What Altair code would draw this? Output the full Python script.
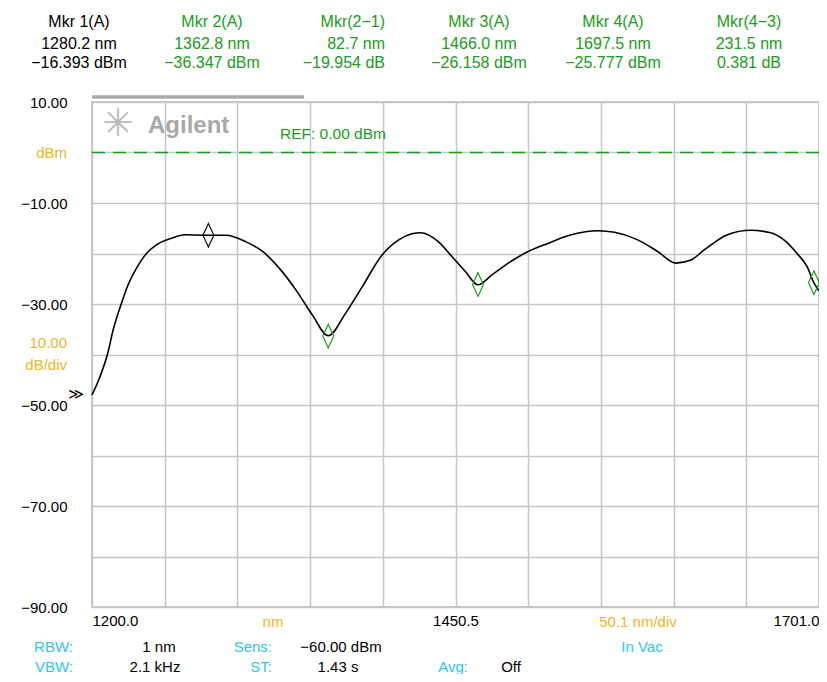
import altair as alt
import pandas as pd

# ---- trace data ----
wavelength = [1200.0, 1205.5, 1210.8, 1214.6, 1219.9, 1224.9, 1230.7, 1237.5, 1244.4, 1254.7,
              1263.8, 1280.2, 1292.4, 1306.2, 1317.6, 1329.0, 1340.5, 1351.9, 1362.8, 1374.8,
              1386.2, 1399.9, 1411.4, 1420.5, 1426.3, 1438.8, 1448.0, 1457.4, 1466.0, 1475.4,
              1486.9, 1500.6, 1514.3, 1530.3, 1548.6, 1560.1, 1576.1, 1589.8, 1602.4, 1612.7,
              1621.9, 1637.9, 1653.9, 1667.6, 1676.8, 1685.9, 1692.8, 1697.5, 1701.0]
power = [-48.0, -44.4, -39.8, -35.1, -30.2, -26.2, -22.9, -20.0, -18.3, -17.0,
         -16.3, -16.4, -16.4, -17.7, -19.6, -22.9, -27.2, -32.2, -36.3, -31.8,
         -26.6, -20.3, -17.3, -16.1, -15.9, -17.7, -20.6, -23.6, -26.2, -24.3,
         -21.9, -19.6, -18.0, -16.3, -15.5, -15.8, -17.3, -19.6, -21.9, -21.3,
         -19.3, -16.3, -15.4, -15.9, -17.3, -20.0, -22.6, -25.8, -27.4]

# ---- markers ----
mkr_names = ["Mkr 1", "Mkr 2", "Mkr 3", "Mkr 4"]
mkr_wl = [1280.2, 1362.8, 1466.0, 1697.5]
mkr_pw = [-16.393, -36.347, -26.158, -25.777]
mkr_active = ["ref", "act", "act", "act"]

# ---- header readout ----
hdr_title = ["Mkr 1(A)", "Mkr 2(A)", "Mkr(2\u22121)", "Mkr 3(A)", "Mkr 4(A)", "Mkr(4\u22123)"]
hdr_wl = ["1280.2 nm", "1362.8 nm", "82.7 nm", "1466.0 nm", "1697.5 nm", "231.5 nm"]
hdr_val = ["\u221216.393 dBm", "\u221236.347 dBm", "\u221219.954 dB", "\u221226.158 dBm",
           "\u221225.777 dBm", "0.381 dB"]

# ---- axes ----
x_start, x_stop, x_div = 1200.0, 1701.0, 50.1
y_top, y_div, n_div = 10.0, 10.0, 10
x_ticks = [round(x_start + x_div * i, 2) for i in range(n_div + 1)]
y_ticks = [y_top - y_div * i for i in range(n_div + 1)]
y_labelled = [10, -10, -30, -50, -70, -90]
x_labelled = [1200.0, 1450.5, 1701.0]

# ---- footer settings ----
footer_labels = ["RBW:", "Sens:", "VBW:", "ST:", "Avg:"]
footer_values = ["1 nm", "\u221260.00 dBm", "2.1 kHz", "1.43 s", "Off"]

# ---- layout / style (not data) ----
W, H = 727, 505
FONT = "Liberation Sans"
GREEN = "#1e9a1e"
ORANGE = "#f2b32a"
CYAN = "#2ec6f2"
GRID = "#c6c6c6"

trace_df = pd.DataFrame({"wl": wavelength, "p": power})
mkr_df = pd.DataFrame({"name": mkr_names, "wl": mkr_wl, "p": mkr_pw, "kind": mkr_active})

xscale = alt.Scale(domain=[x_start, x_stop], nice=False, zero=False)
yscale = alt.Scale(domain=[y_top - y_div * n_div, y_top], nice=False, zero=False)

ylab_expr = "indexof(%s, datum.value) >= 0 ? format(datum.value, '.2f') : ''" % str(y_labelled)
xlab_expr = "indexof(%s, datum.value) >= 0 ? format(datum.value, '.1f') : ''" % str(x_labelled)

x_enc = alt.X("wl:Q", scale=xscale, title=None,
              axis=alt.Axis(values=x_ticks, labelExpr=xlab_expr, labelFlush=True,
                            grid=True, gridColor=GRID, gridWidth=1.5, ticks=False, tickSize=0,
                            domain=False, labelFontSize=15, labelFont=FONT, labelColor="black",
                            labelPadding=6, labelOverlap=False))
y_enc = alt.Y("p:Q", scale=yscale, title=None,
              axis=alt.Axis(values=y_ticks, labelExpr=ylab_expr, grid=True, gridColor=GRID,
                            gridWidth=1.5, ticks=False, tickSize=0, domain=False,
                            labelFontSize=15, labelFont=FONT, labelColor="black",
                            labelPadding=25, labelOverlap=False))

trace = alt.Chart(trace_df).mark_line(color="black", strokeWidth=1.6,
                                      interpolate="monotone").encode(x=x_enc, y=y_enc)

ref_line = alt.Chart(pd.DataFrame({"p": [0.0]})).mark_rule(
    color=GREEN, strokeWidth=1.5, strokeDash=[13, 8]).encode(y=alt.Y("p:Q", scale=yscale))

diamond = "M0,-1L0.46,0L0,1L-0.46,0Z"
markers = alt.Chart(mkr_df).mark_point(shape=diamond, size=560, filled=False,
                                       strokeWidth=1.2, opacity=1).encode(
    x=alt.X("wl:Q", scale=xscale),
    y=alt.Y("p:Q", scale=yscale),
    color=alt.Color("kind:N", scale=alt.Scale(domain=["ref", "act"], range=["#111111", GREEN]),
                    legend=None),
)

layers = [trace, ref_line, markers]


def txt(text, px, py, color="black", size=15, align="center", weight="normal", font=FONT,
        baseline="middle"):
    return alt.Chart(pd.DataFrame({"t": [text]})).mark_text(
        align=align, baseline=baseline, color=color, fontSize=size, font=font,
        fontWeight=weight).encode(x=alt.value(px), y=alt.value(py), text="t:N")


# header readout
col_x = [-13, 120, 293, 387, 521, 657]
col_align = ["center", "center", "right", "center", "center", "center"]
col_color = ["black", GREEN, GREEN, GREEN, GREEN, GREEN]
for i in range(6):
    for j, rows in enumerate([hdr_title, hdr_wl, hdr_val]):
        layers.append(txt(rows[i], col_x[i], [-80, -58.5, -39.5][j], color=col_color[i],
                          size=16, align=col_align[i]))

# gray bar and logo
layers.append(alt.Chart(pd.DataFrame({"a": [0]})).mark_rule(color="#ababab", strokeWidth=3.5)
              .encode(x=alt.value(0), x2=alt.value(212), y=alt.value(-5)))
layers.append(txt("\u2733", 26, 23, color="#bcbcbc", size=38, font="DejaVu Sans"))
layers.append(txt("Agilent", 56, 24, color="#a9a9a9", size=24, align="left", weight="bold"))
layers.append(txt("REF: 0.00 dBm", 188, 32, color=GREEN, size=15.5, align="left"))

# y-axis extras
layers.append(txt("dBm", -25, 51, color=ORANGE, size=15, align="right"))
layers.append(txt("10.00", -25, 241, color=ORANGE, size=15, align="right"))
layers.append(txt("dB/div", -25, 263, color=ORANGE, size=15, align="right"))
layers.append(txt("\u226b", -16, 292, color="black", size=15, font="DejaVu Sans"))

# x-axis extras
layers.append(txt("nm", 181, 520, color=ORANGE, size=15))
layers.append(txt("%.1f nm/div" % x_div, 546, 520, color=ORANGE, size=15))

# footer
r1, r2 = 545, 565
layers.append(txt(footer_labels[0], -19, r1, color=CYAN, align="right"))
layers.append(txt(footer_values[0], 67, r1))
layers.append(txt(footer_labels[1], 180, r1, color=CYAN, align="right"))
layers.append(txt(footer_values[1], 249, r1))
layers.append(txt("In Vac", 550, r1, color=CYAN))
layers.append(txt(footer_labels[2], -19, r2, color=CYAN, align="right"))
layers.append(txt(footer_values[2], 63, r2))
layers.append(txt(footer_labels[3], 180, r2, color=CYAN, align="right"))
layers.append(txt(footer_values[3], 246, r2))
layers.append(txt(footer_labels[4], 376, r2, color=CYAN, align="right"))
layers.append(txt(footer_values[4], 419, r2))

chart = alt.layer(*layers).properties(
    width=W, height=H,
    autosize=alt.AutoSizeParams(type="none"),
    padding={"left": 84, "top": 94, "right": 0, "bottom": 67},
    background="white",
).configure_view(stroke="#b4b4b4", strokeWidth=1.5)

chart.save("out.html", embed_options={"renderer": "svg", "actions": False})
